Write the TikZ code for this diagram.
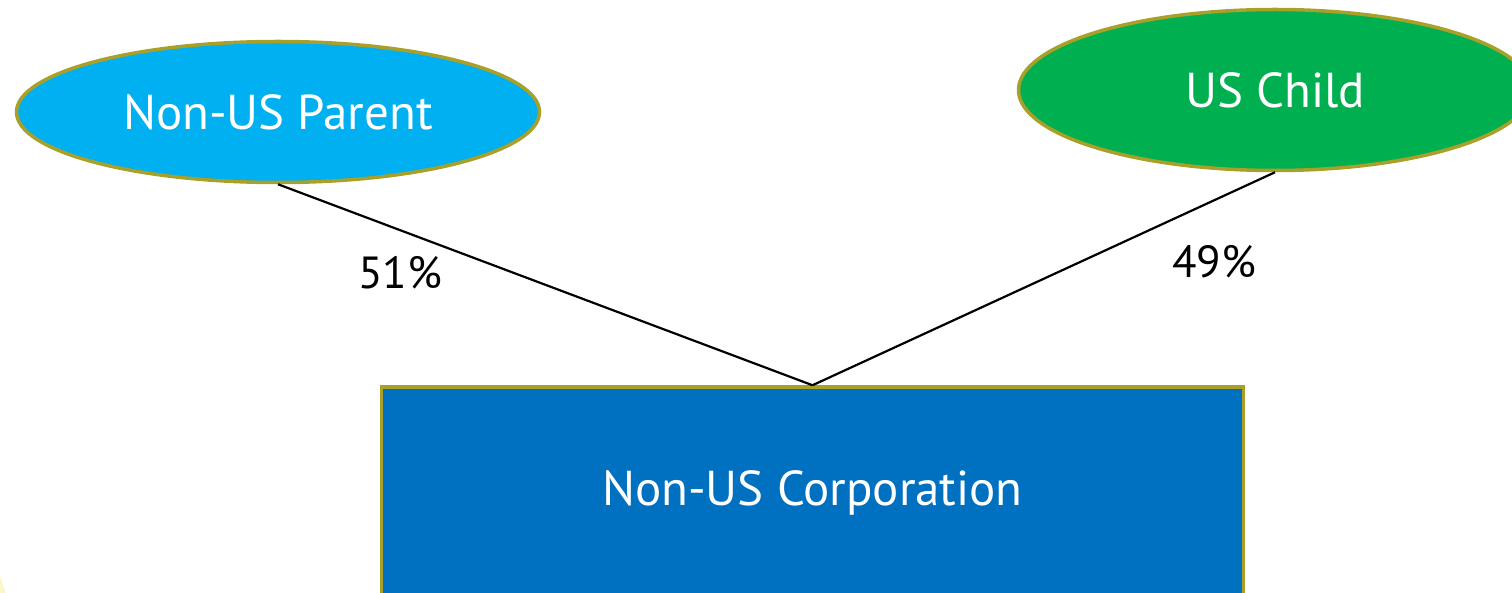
\documentclass[tikz,border=0pt]{standalone}
\usepackage{fontspec}
\setmainfont{PT Sans}
\usetikzlibrary{shapes.geometric}
\definecolor{rim}{RGB}{168,160,40}
\definecolor{skyfill}{RGB}{0,176,240}
\definecolor{grnfill}{RGB}{0,176,80}
\definecolor{corpfill}{RGB}{0,112,192}
\definecolor{paleyel}{RGB}{250,248,200}
\tikzset{
  entity/.style={ellipse, draw=rim, line width=3.5pt, inner sep=0pt, text=white, font=\fontsize{49}{58}\selectfont},
  corpbox/.style={rectangle, draw=rim, line width=3.5pt, inner sep=0pt, text=white, font=\fontsize{49}{58}\selectfont},
  link/.style={black, line width=2.2pt},
  pct/.style={text=black, font=\fontsize{45}{54}\selectfont, inner sep=0pt}
}
\begin{document}
\begin{tikzpicture}[x=1pt,y=-1pt]
\useasboundingbox (0,0) rectangle (1512,593);
\clip (0,0) rectangle (1512,593);
\fill[paleyel] (0,576) -- (6,593) -- (0,593) -- cycle;
\node[entity, fill=skyfill, minimum width=523pt, minimum height=141pt] (parent) at (278,112) {Non-US Parent};
\node[entity, fill=grnfill, minimum width=513pt, minimum height=161pt] (child) at (1275,90) {US Child};
\node[corpbox, fill=corpfill, minimum width=862pt, minimum height=212pt] (corp) at (812.5,493) {\raisebox{-3pt}{Non-US Corporation}};
\draw[link] (parent.south) -- (corp.north);
\draw[link] (child.south) -- (corp.north);
\node[pct] (pa) at (400,273) {51\%};
\node[pct] (pb) at (1214,262) {49\%};
\end{tikzpicture}
\end{document}
